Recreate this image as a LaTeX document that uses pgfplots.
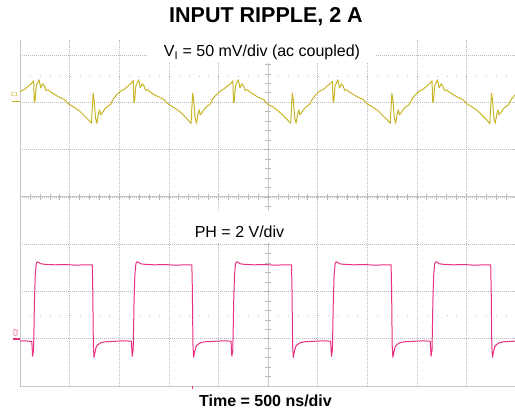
\documentclass[border=0pt]{standalone}
\usepackage{pgfplots}
\pgfplotsset{compat=1.18}
\usepackage{fontspec}
\setmainfont{Liberation Sans}
\definecolor{ytrace}{RGB}{200,182,40}
\definecolor{ptrace}{RGB}{232,48,128}
\definecolor{gridc}{RGB}{185,185,185}
\begin{document}
\begin{tikzpicture}
\path[use as bounding box] (-20pt,-29pt) rectangle (495pt,386pt);
\begin{axis}[at={(0pt,0pt)}, anchor=south west, scale only axis,
  width=496pt, height=346.2pt,
  xmin=0, xmax=10, ymin=-4, ymax=3.319,
  xtick={0,...,10}, ytick={-4,...,3},
  xticklabels={}, yticklabels={}, major tick length=0pt,
  grid=major, grid style={gridc, line width=0.5pt, dash pattern=on 1pt off 1pt},
  axis x line=bottom, axis y line=left,
  axis line style={-, gray!45, line width=0.7pt},
  clip=false]
% center crosshair with minor ticks
\draw[gray!45, line width=0.6pt] (axis cs:0,0) -- (axis cs:10,0);
\draw[gray!45, line width=0.6pt] (axis cs:5,-4) -- (axis cs:5,3.319);
\pgfplotsinvokeforeach{1,...,49}{\draw[gray!55, line width=0.5pt] (axis cs:#1*0.2,-0.065) -- (axis cs:#1*0.2,0.065);}
\pgfplotsinvokeforeach{1,...,36}{\draw[gray!55, line width=0.5pt] (axis cs:4.94,-4+#1*0.2) -- (axis cs:5.06,-4+#1*0.2);}
% sparse dotted marker lines
\draw[gray!50, line width=0.8pt, dash pattern=on 1pt off 8.92pt] (axis cs:0,2.537) -- (axis cs:10,2.537);
\draw[gray!50, line width=0.8pt, dash pattern=on 1pt off 8.92pt] (axis cs:0,-2.516) -- (axis cs:10,-2.516);
% V_I trace
\addplot[ytrace, line width=1pt, line join=round] table {
x y
0 2.210
0.014 2.230
0.094 2.273
0.175 2.347
0.236 2.400
0.276 2.452
0.288 1.994
0.304 2.030
0.328 2.347
0.385 2.474
0.419 2.304
0.459 2.389
0.490 2.347
0.524 2.247
0.570 2.262
0.611 2.220
0.691 2.167
0.792 2.104
0.893 2.061
0.974 1.966
1.095 1.892
1.195 1.818
1.296 1.712
1.377 1.628
1.441 1.554
1.455 1.839
1.474 2.188
1.494 2.051
1.522 1.670
1.550 1.554
1.578 1.734
1.603 1.839
1.627 1.734
1.659 1.776
1.713 1.860
1.780 1.924
1.820 1.945
1.881 2.072
1.949 2.156
2.022 2.230
2.103 2.273
2.183 2.347
2.244 2.400
2.284 2.460
2.296 1.994
2.312 2.030
2.336 2.347
2.393 2.474
2.427 2.304
2.467 2.389
2.498 2.347
2.532 2.247
2.578 2.262
2.619 2.220
2.699 2.160
2.800 2.110
2.901 2.055
2.982 1.966
3.103 1.885
3.203 1.818
3.304 1.720
3.385 1.628
3.449 1.550
3.463 1.839
3.482 2.188
3.502 2.051
3.530 1.670
3.558 1.554
3.586 1.734
3.611 1.839
3.635 1.734
3.667 1.776
3.721 1.860
3.788 1.930
3.828 1.945
3.889 2.072
3.957 2.156
4.030 2.225
4.111 2.280
4.191 2.347
4.252 2.400
4.292 2.452
4.304 1.994
4.320 2.030
4.344 2.347
4.401 2.474
4.435 2.304
4.475 2.389
4.506 2.347
4.540 2.247
4.586 2.262
4.627 2.220
4.707 2.167
4.808 2.100
4.909 2.061
4.990 1.960
5.111 1.892
5.211 1.810
5.312 1.712
5.393 1.628
5.457 1.554
5.471 1.839
5.490 2.188
5.510 2.051
5.538 1.670
5.566 1.554
5.594 1.734
5.619 1.839
5.643 1.734
5.675 1.776
5.729 1.860
5.796 1.924
5.836 1.950
5.897 2.072
5.965 2.156
6.038 2.230
6.119 2.273
6.199 2.347
6.260 2.400
6.300 2.440
6.312 1.994
6.328 2.030
6.352 2.347
6.409 2.474
6.443 2.304
6.483 2.389
6.514 2.347
6.548 2.247
6.594 2.262
6.635 2.220
6.715 2.167
6.816 2.104
6.917 2.061
6.998 1.966
7.119 1.892
7.219 1.818
7.320 1.712
7.401 1.628
7.465 1.554
7.479 1.839
7.498 2.188
7.518 2.051
7.546 1.670
7.574 1.554
7.602 1.734
7.627 1.839
7.651 1.734
7.683 1.776
7.737 1.860
7.804 1.924
7.844 1.945
7.905 2.072
7.973 2.156
8.046 2.230
8.127 2.273
8.207 2.347
8.268 2.400
8.308 2.452
8.320 1.994
8.336 2.030
8.360 2.347
8.417 2.474
8.451 2.304
8.491 2.389
8.522 2.347
8.556 2.247
8.602 2.262
8.643 2.220
8.723 2.167
8.824 2.104
8.925 2.061
9.006 1.966
9.127 1.892
9.227 1.818
9.328 1.712
9.409 1.628
9.473 1.545
9.487 1.839
9.506 2.188
9.526 2.051
9.554 1.670
9.582 1.554
9.610 1.734
9.635 1.839
9.659 1.734
9.691 1.776
9.745 1.860
9.812 1.924
9.852 1.945
9.913 2.072
9.981 2.156
};
% PH trace
\addplot[ptrace, line width=1pt, line join=round] table {
x y
0 -3.050
0.100 -3.045
0.200 -3.055
0.238 -3.055
0.254 -3.372
0.274 -3.235
0.292 -2.178
0.308 -1.649
0.328 -1.416
0.348 -1.374
0.379 -1.385
0.419 -1.416
0.500 -1.427
0.701 -1.438
0.903 -1.432
1.104 -1.444
1.457 -1.438
1.467 -1.966
1.479 -3.129
1.492 -3.393
1.514 -3.277
1.538 -3.171
1.568 -3.129
1.629 -3.087
1.709 -3.066
1.911 -3.055
2.113 -3.044
2.246 -3.055
2.262 -3.372
2.282 -3.235
2.300 -2.178
2.316 -1.649
2.336 -1.416
2.356 -1.374
2.387 -1.385
2.427 -1.416
2.508 -1.427
2.709 -1.438
2.911 -1.432
3.112 -1.444
3.465 -1.438
3.475 -1.966
3.487 -3.129
3.500 -3.393
3.522 -3.277
3.546 -3.171
3.576 -3.129
3.637 -3.087
3.717 -3.066
3.919 -3.055
4.121 -3.044
4.255 -3.055
4.271 -3.372
4.291 -3.235
4.309 -2.178
4.325 -1.649
4.345 -1.416
4.365 -1.374
4.396 -1.385
4.436 -1.416
4.517 -1.427
4.718 -1.438
4.920 -1.432
5.121 -1.444
5.474 -1.438
5.484 -1.966
5.496 -3.129
5.509 -3.393
5.531 -3.277
5.555 -3.171
5.585 -3.129
5.646 -3.087
5.726 -3.066
5.928 -3.055
6.130 -3.044
6.263 -3.055
6.279 -3.372
6.299 -3.235
6.317 -2.178
6.333 -1.649
6.353 -1.416
6.373 -1.374
6.404 -1.385
6.444 -1.416
6.525 -1.427
6.726 -1.438
6.928 -1.432
7.129 -1.444
7.482 -1.438
7.492 -1.966
7.504 -3.129
7.517 -3.393
7.539 -3.277
7.563 -3.171
7.593 -3.129
7.654 -3.087
7.734 -3.066
7.936 -3.055
8.138 -3.044
8.271 -3.055
8.287 -3.372
8.307 -3.235
8.325 -2.178
8.341 -1.649
8.361 -1.416
8.381 -1.374
8.412 -1.385
8.452 -1.416
8.533 -1.427
8.734 -1.438
8.936 -1.432
9.137 -1.444
9.490 -1.438
9.500 -1.966
9.512 -3.129
9.525 -3.393
9.547 -3.277
9.571 -3.171
9.601 -3.129
9.662 -3.087
9.742 -3.066
9.944 -3.055
9.980 -3.050
};
\end{axis}
% channel markers
\draw[ytrace, line width=1.2pt] (-8pt,284.5pt) -- (0pt,284.5pt);
\node[ytrace, font=\fontsize{6}{6}\selectfont, inner sep=0pt] at (-5.5pt,291.5pt) {C1};
\draw[ptrace, line width=1.2pt] (-7pt,47pt) -- (0pt,47pt);
\node[ptrace, rotate=90, font=\fontsize{6}{6}\selectfont, inner sep=0pt] at (-4.5pt,53pt) {C2};
\draw[ptrace, line width=0.8pt] (172.7pt,0pt) -- (172.7pt,-3pt);
% titles and labels
\node[anchor=base, font=\fontsize{21.5}{24}\selectfont\bfseries] at (246pt,363pt) {INPUT RIPPLE, 2 A};
\fill[white] (127pt,323pt) rectangle (356pt,350pt);
\node[anchor=base, font=\fontsize{16}{18}\selectfont] at (242pt,329pt) {V\textsubscript{I} = 50 mV/div (ac coupled)};
\fill[white] (160pt,143pt) rectangle (280pt,175pt);
\node[anchor=base, font=\fontsize{16}{18}\selectfont] at (219.5pt,148.3pt) {PH = 2 V/div};
\node[anchor=base, font=\fontsize{16}{18}\selectfont\bfseries] at (245.5pt,-20.7pt) {Time = 500 ns/div};
\end{tikzpicture}
\end{document}
